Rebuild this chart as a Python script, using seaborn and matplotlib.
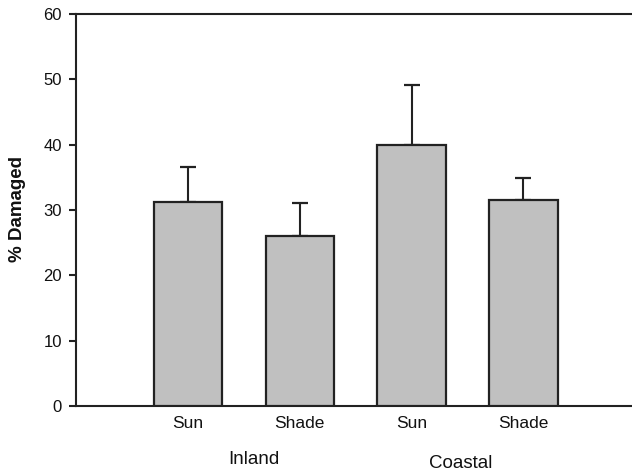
import matplotlib
matplotlib.use("Agg")
import matplotlib.pyplot as plt
import matplotlib.transforms as mtransforms
import seaborn as sns
import pandas as pd

groups = ["Inland", "Inland", "Coastal", "Coastal"]
conditions = ["Sun", "Shade", "Sun", "Shade"]
damaged = [31.2, 26.0, 40.0, 31.5]
upper_err = [5.4, 5.0, 9.1, 3.4]
group_labels = ["Inland", "Coastal"]
yticks = [0, 10, 20, 30, 40, 50, 60]

sns.set_theme(style="white")
plt.rcParams["font.family"] = ["Liberation Sans", "DejaVu Sans"]

df = pd.DataFrame({
    "key": [f"{g} {c}" for g, c in zip(groups, conditions)],
    "cond": conditions,
    "val": damaged,
})

fig = plt.figure(figsize=(6.32, 4.72), dpi=100)
ax = fig.add_axes([76 / 632, 66 / 472, 1 - 76 / 632, 392 / 472])

sns.barplot(data=df, x="key", y="val", order=list(df["key"]), color="#c0c0c0",
            saturation=1, width=0.61, edgecolor="#222222", linewidth=1.6,
            errorbar=None, ax=ax, zorder=3)

ax.errorbar(range(len(damaged)), damaged, yerr=[[0] * len(damaged), upper_err],
            fmt="none", ecolor="#222222", elinewidth=1.5, capsize=5.5,
            capthick=1.6, zorder=2)

ax.set_xlim(-1.0, 3.97)
ax.set_ylim(0, 60)
ax.set_yticks(yticks)
ax.set_yticklabels([str(t) for t in yticks], fontsize=12, color="#111111")
ax.set_xticks(range(len(damaged)))
ax.set_xticklabels(conditions, fontsize=12.5, color="#111111")
ax.tick_params(axis="x", length=0, pad=7)
ax.tick_params(axis="y", direction="out", length=5, width=1.5, color="#222222",
               pad=5, left=True)
ax.set_xlabel("")
ax.set_ylabel("")
fig.text(17.5 / 632, 1 - 209 / 472, "% Damaged", rotation=90, ha="center",
         va="center", fontsize=13.5, fontweight="bold", color="#111111")

for side in ["left", "bottom", "top"]:
    ax.spines[side].set_visible(True)
    ax.spines[side].set_linewidth(1.5)
    ax.spines[side].set_color("#222222")
ax.spines["right"].set_visible(False)

trans = mtransforms.blended_transform_factory(ax.transData, fig.transFigure)
ax.text(0.59, 1 - 460 / 472, group_labels[0], transform=trans, ha="center",
        va="center", fontsize=13.5, color="#111111")
ax.text(2.44, 1 - 463.5 / 472, group_labels[1], transform=trans, ha="center",
        va="center", fontsize=13.5, color="#111111")

fig.savefig("out.png", dpi=100)
